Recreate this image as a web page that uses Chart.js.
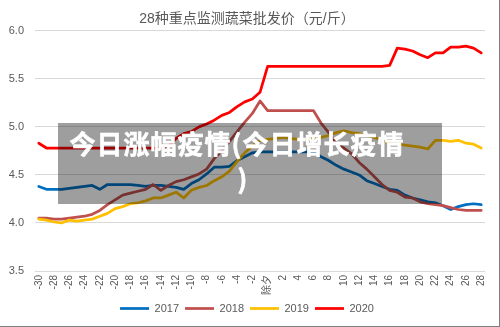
<!DOCTYPE html>
<html>
<head>
<meta charset="utf-8">
<script src="https://cdn.jsdelivr.net/npm/chart.js@4"></script>
<style>
    html, body { margin: 0; padding: 0; background: #fff; }
    #wrap { position: relative; width: 499px; height: 326px; border-right: 1px solid #7f7f7f; border-bottom: 1px solid #7f7f7f; }
    #chart { display: block; }
    .veil { position: absolute; left: 58px; top: 123px; width: 384px; height: 81px; background: rgba(0,0,0,0.38); }
    .veil-text { position: absolute; left: 58px; top: 125px; width: 358px; text-align: center;
        font: bold 26px/35px "Noto Sans CJK SC", sans-serif; letter-spacing: 1px; color: #fff;
        -webkit-text-stroke: 0.6px #fff; }
    .veil-text span { position: relative; left: 6px; }
</style>
</head>
<body>
<div id="wrap">
    <canvas id="chart" width="499" height="326"></canvas>
    <div class="veil"></div>
    <div class="veil-text">今日涨幅疫情(今日增长疫情<br><span>)</span></div>
</div>
<script>
    // ------------------------------------------------------------------
    // Data
    // ------------------------------------------------------------------
    var TITLE = '28种重点监测蔬菜批发价（元/斤）';

    var days = ['-30','-29','-28','-27','-26','-25','-24','-23','-22','-21',
        '-20','-19','-18','-17','-16','-15','-14','-13','-12','-11',
        '-10','-9','-8','-7','-6','-5','-4','-3','-2','-1',
        '除夕','1','2','3','4','5','6','7','8','9',
        '10','11','12','13','14','15','16','17','18','19',
        '20','21','22','23','24','25','26','27','28'];

    var years = ['2017', '2018', '2019', '2020'];
    var colors = ['#0070C0', '#C0504D', '#FFC000', '#FF0000'];

    var price2017 = [4.38,4.35,4.35,4.35,4.36,4.37,4.38,4.39,4.35,4.40,
        4.40,4.40,4.40,4.39,4.38,4.39,4.39,4.38,4.37,4.35,
        4.41,4.45,4.51,4.58,4.58,4.59,4.65,4.69,4.73,4.74,
        4.74,4.74,4.74,4.74,4.74,4.74,4.74,4.69,4.65,4.60,
        4.56,4.53,4.50,4.44,4.41,4.38,4.35,4.34,4.29,4.26,
        4.24,4.22,4.21,4.18,4.14,4.17,4.19,4.20,4.19];

    var price2018 = [4.05,4.05,4.04,4.04,4.05,4.06,4.07,4.09,4.13,4.19,
        4.24,4.29,4.31,4.33,4.35,4.40,4.34,4.39,4.43,4.45,
        4.48,4.51,4.56,4.67,4.75,4.85,4.95,5.05,5.14,5.27,
        5.17,5.17,5.17,5.17,5.17,5.17,5.17,5.04,4.94,4.83,
        4.78,4.72,4.63,4.56,4.48,4.40,4.34,4.32,4.27,4.26,
        4.22,4.20,4.19,4.18,4.16,4.14,4.13,4.13,4.13];

    var price2019 = [4.04,4.03,4.01,4.00,4.03,4.02,4.03,4.04,4.07,4.10,
        4.15,4.17,4.20,4.21,4.23,4.26,4.26,4.29,4.32,4.26,
        4.34,4.37,4.39,4.44,4.48,4.54,4.64,4.73,4.80,4.86,
        4.87,4.88,4.89,4.88,4.87,4.87,4.88,4.89,4.91,4.94,
        4.96,4.94,4.93,4.91,4.89,4.86,4.83,4.82,4.81,4.80,
        4.79,4.77,4.86,4.86,4.85,4.86,4.83,4.82,4.78];

    var price2020 = [4.83,4.78,4.78,4.78,4.78,4.78,4.78,4.78,4.78,4.78,
        4.78,4.78,4.78,4.78,4.78,4.78,4.78,4.80,4.88,4.93,
        4.95,5.00,5.03,5.07,5.12,5.15,5.21,5.26,5.29,5.36,
        5.63,5.63,5.63,5.63,5.63,5.63,5.63,5.63,5.63,5.63,
        5.63,5.63,5.63,5.63,5.63,5.63,5.64,5.82,5.81,5.79,
        5.75,5.72,5.77,5.77,5.83,5.83,5.84,5.82,5.77];

    var yTicks = [3.5, 4.0, 4.5, 5.0, 5.5, 6.0];

    var LATIN = '"Liberation Sans", "Noto Sans CJK SC", sans-serif';
    var GREY = '#595959';

    // x labels drawn bottom-to-top, every second day
    var xLabelPlugin = {
        id: 'xLabels',
        afterDraw: function (chart) {
            var scale = chart.scales.x;
            var ctx = chart.ctx;
            ctx.save();
            ctx.font = '10px ' + LATIN;
            ctx.fillStyle = GREY;
            ctx.textAlign = 'right';
            ctx.textBaseline = 'middle';
            days.forEach(function (d, i) {
                if (i % 2) return;
                ctx.save();
                ctx.translate(scale.getPixelForTick(i), scale.top + 4);
                ctx.rotate(-Math.PI / 2);
                ctx.fillText(d, 0, 0);
                ctx.restore();
            });
            ctx.restore();
        }
    };

    // centre title and legend on the whole picture, not on the padded box
    var recentrePlugin = {
        id: 'recentre',
        afterLayout: function (chart) {
            if (chart.legend) chart.legend.left += 9;
            if (chart.titleBlock) chart.titleBlock.left += 9;
        }
    };

    var series = [price2017, price2018, price2019, price2020];
    var datasets = series.map(function (data, i) {
        return {
            label: years[i],
            data: data,
            borderColor: colors[i],
            backgroundColor: colors[i],
            borderWidth: 2.75,
            pointRadius: 0,
            tension: 0,
            fill: false,
            borderJoinStyle: 'round',
            borderCapStyle: 'round',
            order: 4 - i   // later years on top
        };
    });

    new Chart(document.getElementById('chart'), {
        type: 'line',
        data: { labels: days, datasets: datasets },
        plugins: [xLabelPlugin, recentrePlugin],
        options: {
            responsive: false,
            animation: false,
            layout: { padding: { top: 4, right: 14, bottom: 2, left: 0 } },
            plugins: {
                title: {
                    display: true, text: TITLE, color: GREY,
                    font: { size: 14, family: LATIN, weight: 'normal' },
                    padding: { top: 7, bottom: 3 }
                },
                legend: {
                    position: 'bottom',
                    labels: {
                        usePointStyle: true, pointStyle: 'line', pointStyleWidth: 29,
                        color: GREY, font: { size: 11, family: LATIN }, padding: 6,
                        sort: function (a, b) { return a.datasetIndex - b.datasetIndex; }
                    }
                },
                tooltip: { enabled: false }
            },
            scales: {
                x: {
                    offset: true,
                    grid: { display: false },
                    border: { display: false },
                    ticks: { display: false },
                    afterFit: function (s) { s.height = 26; }
                },
                y: {
                    min: 3.5, max: 6.0,
                    afterBuildTicks: function (s) { s.ticks = yTicks.map(function (v) { return { value: v }; }); },
                    ticks: {
                        padding: 11, color: GREY, font: { size: 11, family: LATIN },
                        callback: function (v) { return Number(v).toFixed(1); }
                    },
                    grid: { color: '#D9D9D9', drawTicks: false },
                    border: { display: false },
                    afterFit: function (s) { s.width = 35; }
                }
            }
        }
    });
</script>
</body>
</html>
